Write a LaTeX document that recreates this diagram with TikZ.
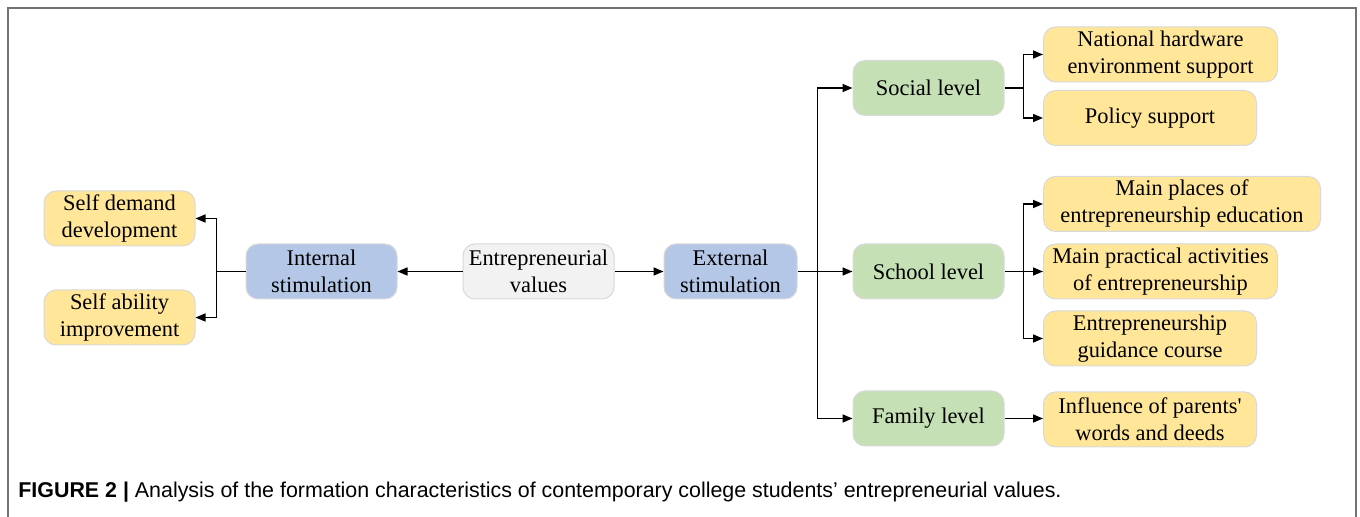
\documentclass[tikz,border=0pt]{standalone}
\usepackage{fontspec}
\setmainfont{Liberation Serif}
\newfontfamily\capfont{Liberation Sans}
\usetikzlibrary{arrows.meta,positioning}
\definecolor{leafyellow}{HTML}{FFE699}
\definecolor{stimblue}{HTML}{B4C7E7}
\definecolor{levelgreen}{HTML}{C5E0B4}
\definecolor{valuegray}{HTML}{F2F2F2}
\tikzset{
    %Define standard arrow tip
    >={Triangle[length=5pt,width=4pt]},
    %Define style for boxes
    base box/.style={
           rectangle,
           rounded corners=6pt,
           draw=black!15, line width=0.5pt,
           minimum width=75.5pt,
           minimum height=27.5pt,
           inner sep=1pt,
           font=\fontsize{11.2}{13.5}\selectfont,
           align=center},
    leaf box/.style={base box, fill=leafyellow},
    stim box/.style={base box, fill=stimblue},
    level box/.style={base box, fill=levelgreen},
    value box/.style={base box, fill=valuegray},
    % Define arrow style
    link/.style={line width=0.75pt}
}
\begin{document}
\begin{tikzpicture}[x=0.5pt,y=-0.5pt]
\useasboundingbox (0,0) rectangle (1360,517);

 %frame
\draw[black!55, line width=1pt] (7.5,517) -- (7.5,8.5) -- (1356,8.5) -- (1356,517);

 %nodes
\node[leaf box] (demand) at (119.5,218.5) {Self demand\\development};
\node[leaf box] (ability) at (119.5,317.5) {Self ability\\improvement};
\node[stim box] (internal) at (321.5,271.5) {Internal\\stimulation};
\node[value box, right=32.5pt of internal] (values) {Entrepreneurial\\values};
\node[stim box, minimum width=66.5pt, right=24.5pt of values] (external) {External\\stimulation};

\node[level box] (social) at (928.5,88) {Social level};
\node[level box] (school) at (928.5,271.5) {School level};
\node[level box] (family) at (928.5,418.5) {Family level};

\node[leaf box, anchor=west, minimum width=117pt] (hardware) at (1043,54.5) {National hardware\\environment support};
\node[leaf box, anchor=west, minimum width=106.5pt] (policy) at (1043,118) {Policy support};
\node[leaf box, anchor=west, minimum width=138.5pt] (places) at (1043,204) {Main places of\\entrepreneurship education};
\node[leaf box, anchor=west, minimum width=117pt] (practice) at (1043,271.5) {Main practical activities\\of entrepreneurship};
\node[leaf box, anchor=west, minimum width=106.5pt] (course) at (1043,338.5) {Entrepreneurship\\guidance course};
\node[leaf box, anchor=west, minimum width=106.5pt] (parents) at (1043,419.5) {Influence of parents{\textquotesingle}\\words and deeds};

 %connectors
\draw[link] (internal.west) -- ++(-29,0) coordinate (ifork);
\draw[link,->] (ifork) |- (demand.east);
\draw[link,->] (ifork) |- (ability.east);
\draw[link,->] (values) -- (internal);
\draw[link,->] (values) -- (external);

\draw[link] (external.east) -- ++(20,0) coordinate (efork);
\draw[link,->] (efork) |- (social.west);
\draw[link,->] (efork) |- (school.west);
\draw[link,->] (efork) |- (family.west);

\draw[link] (social.east) -- ++(19,0) coordinate (sfork);
\draw[link,->] (sfork) |- (hardware.west);
\draw[link,->] (sfork) |- (policy.west);

\draw[link] (school.east) -- ++(19,0) coordinate (kfork);
\draw[link,->] (kfork) |- (places.west);
\draw[link,->] (kfork) |- (practice.west);
\draw[link,->] (kfork) |- (course.west);

\draw[link,->] (family.east) -- (family.east -| parents.west);

 %caption
\node[anchor=base west, inner sep=0pt, font=\capfont\fontsize{10.7}{13}\selectfont] (caption) at (18,498)
  {\textbf{FIGURE 2 |} Analysis of the formation characteristics of contemporary college students’ entrepreneurial values.};
\end{tikzpicture}
\end{document}
